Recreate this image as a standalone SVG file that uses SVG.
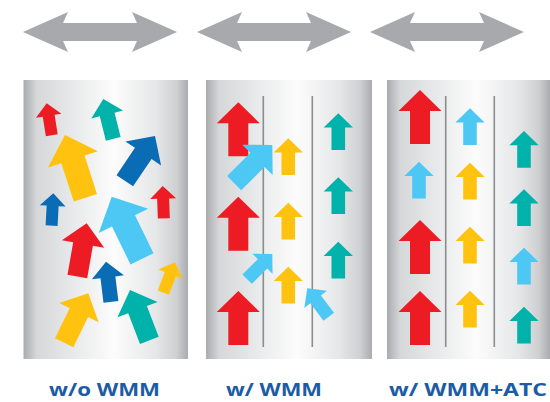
<svg xmlns="http://www.w3.org/2000/svg" width="550" height="402" viewBox="0 0 550 402">
<style>
.r{fill:#ed1c24}.t{fill:#00b2a9}.y{fill:#ffc20e}.b{fill:#0b6cb6}.c{fill:#4dc8f4}
.dbl{fill:#a7a9ac}
.ln{stroke:#8a8c8e;stroke-width:1.6}
.lab{font-family:"Open Sans","Liberation Sans",sans-serif;font-weight:700;font-size:18px;fill:#1b5ca6}
</style>
<defs>
<linearGradient id="g" x1="0" y1="0" x2="1" y2="0">
<stop offset="0" stop-color="#a9abae"/>
<stop offset="0.08" stop-color="#d6d7d9"/>
<stop offset="0.3" stop-color="#e8e9ea"/>
<stop offset="0.55" stop-color="#fcfcfc"/>
<stop offset="0.8" stop-color="#e6e7e8"/>
<stop offset="0.93" stop-color="#cfd0d2"/>
<stop offset="1" stop-color="#a9abae"/>
</linearGradient>
<path id="ar" d="M0,0 L21.5,21 L10,21 L10,54 L-10,54 L-10,21 L-21.5,21 Z"/>
<path id="dbl" d="M23,32 L68,12 L63,23 L137,23 L132,12 L177,32 L132,52 L137,41 L63,41 L68,52 Z"/>
</defs>
<g id="double-arrows">
<use href="#dbl" class="dbl"/>
<use href="#dbl" class="dbl" transform="translate(174,0)"/>
<use href="#dbl" class="dbl" transform="translate(347,0)"/>
</g>
<g id="panel-wo-wmm">
<rect x="23.5" y="80" width="164.5" height="279" fill="url(#g)"/>
<use href="#ar" class="r" transform="translate(46.7,103.3) rotate(-9) scale(0.6)"/>
<use href="#ar" class="t" transform="translate(103.3,99) rotate(-14) scale(0.76)"/>
<use href="#ar" class="y" transform="translate(65,135) rotate(-18) scale(1.22)"/>
<use href="#ar" class="b" transform="translate(155,136) rotate(34) scale(1)"/>
<use href="#ar" class="b" transform="translate(53.3,193.3) rotate(3) scale(0.6)"/>
<use href="#ar" class="r" transform="translate(162.7,186) rotate(-2) scale(0.6)"/>
<use href="#ar" class="r" transform="translate(86.7,223.3) rotate(10) scale(1)"/>
<use href="#ar" class="c" transform="translate(111.7,196.7) rotate(-26) scale(1.28)"/>
<use href="#ar" class="b" transform="translate(106,261.7) rotate(-7) scale(0.75)"/>
<use href="#ar" class="y" transform="translate(175,262.3) rotate(21) scale(0.6)"/>
<use href="#ar" class="y" transform="translate(88.3,293.3) rotate(26) scale(1.02)"/>
<use href="#ar" class="t" transform="translate(130,290) rotate(-21) scale(1)"/>
</g>
<g id="panel-w-wmm">
<rect x="206" y="80" width="166" height="279" fill="url(#g)"/>
<line class="ln" x1="263.3" y1="96" x2="263.3" y2="347"/>
<line class="ln" x1="312.3" y1="96" x2="312.3" y2="347"/>
<use href="#ar" class="r" transform="translate(238.3,102.3)"/>
<use href="#ar" class="r" transform="translate(238.3,196.7)"/>
<use href="#ar" class="r" transform="translate(238.3,291)"/>
<use href="#ar" class="y" transform="translate(288.3,138.3) scale(0.68)"/>
<use href="#ar" class="y" transform="translate(288.3,202.7) scale(0.68)"/>
<use href="#ar" class="y" transform="translate(288.3,266.7) scale(0.68)"/>
<use href="#ar" class="t" transform="translate(338.3,113.3) scale(0.68)"/>
<use href="#ar" class="t" transform="translate(338.3,177.3) scale(0.68)"/>
<use href="#ar" class="t" transform="translate(338.3,241.7) scale(0.68)"/>
<use href="#ar" class="c" transform="translate(272.3,145) rotate(45)"/>
<use href="#ar" class="c" transform="translate(272.3,254) rotate(45) scale(0.66)"/>
<use href="#ar" class="c" transform="translate(307.3,288.3) rotate(-37) scale(0.66)"/>
</g>
<g id="panel-w-wmm-atc">
<rect x="387" y="80" width="163" height="279" fill="url(#g)"/>
<line class="ln" x1="445.7" y1="96" x2="445.7" y2="347"/>
<line class="ln" x1="494.3" y1="96" x2="494.3" y2="347"/>
<use href="#ar" class="r" transform="translate(420,90)"/>
<use href="#ar" class="c" transform="translate(419,161.7) scale(0.68)"/>
<use href="#ar" class="r" transform="translate(420,220)"/>
<use href="#ar" class="r" transform="translate(420,291)"/>
<use href="#ar" class="c" transform="translate(470,108.3) scale(0.68)"/>
<use href="#ar" class="y" transform="translate(470,162.7) scale(0.68)"/>
<use href="#ar" class="y" transform="translate(470,226.7) scale(0.68)"/>
<use href="#ar" class="y" transform="translate(470,290.7) scale(0.68)"/>
<use href="#ar" class="t" transform="translate(524,131) scale(0.68)"/>
<use href="#ar" class="t" transform="translate(524,189.3) scale(0.68)"/>
<use href="#ar" class="c" transform="translate(524,247.7) scale(0.68)"/>
<use href="#ar" class="t" transform="translate(524,306.7) scale(0.68)"/>
</g>
<g id="labels">
<text class="lab" x="49" y="396" textLength="111" lengthAdjust="spacingAndGlyphs">w/o WMM</text>
<text class="lab" x="226" y="396" textLength="96" lengthAdjust="spacingAndGlyphs">w/ WMM</text>
<text class="lab" x="389" y="396" textLength="158" lengthAdjust="spacingAndGlyphs">w/ WMM+ATC</text>
</g>
</svg>
